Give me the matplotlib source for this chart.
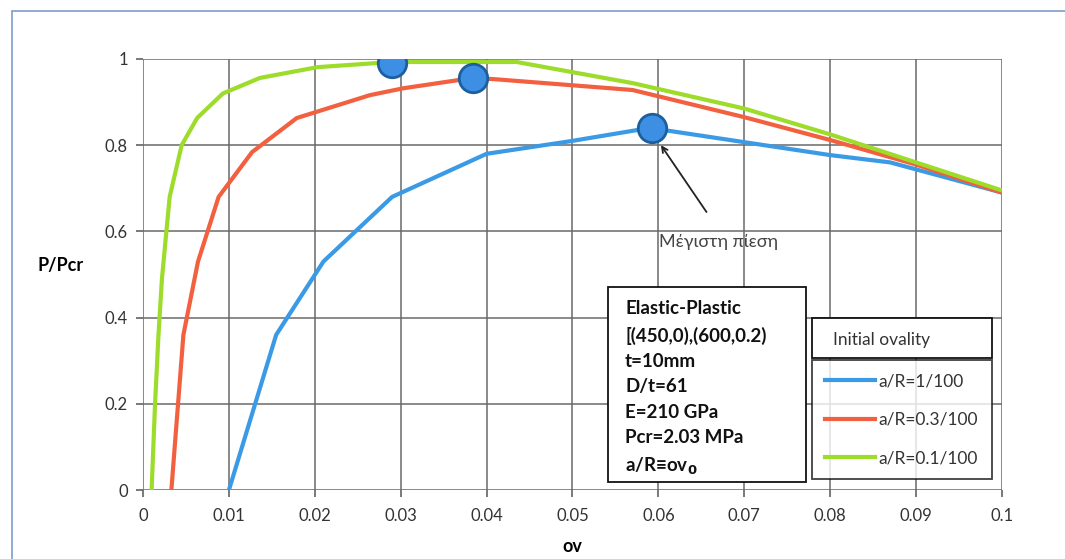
import numpy as np
import matplotlib.pyplot as plt
from matplotlib.lines import Line2D
from matplotlib.patches import Rectangle

plt.rcParams['font.family'] = ['Lato', 'DejaVu Sans']

# a/R = 1/100
ov_1 = [0.010, 0.0155, 0.021, 0.029, 0.040, 0.050, 0.059, 0.070, 0.080, 0.087, 0.100]
p_1 = [0.0, 0.36, 0.53, 0.68, 0.78, 0.81, 0.84, 0.807, 0.777, 0.76, 0.69]

# a/R = 0.3/100
ov_03 = [0.0033, 0.0047, 0.0064, 0.0088, 0.0127, 0.0179, 0.0264, 0.0303, 0.0384, 0.041, 0.057, 0.070, 0.080, 0.090, 0.100]
p_03 = [0.0, 0.36, 0.53, 0.68, 0.784, 0.863, 0.916, 0.932, 0.956, 0.953, 0.928, 0.865, 0.812, 0.755, 0.69]

# a/R = 0.1/100
ov_01 = [0.0010, 0.0014, 0.0018, 0.0022, 0.0031, 0.0045, 0.0063, 0.0093, 0.0136, 0.0203, 0.029, 0.0435, 0.057, 0.070, 0.080, 0.090, 0.100]
p_01 = [0.0, 0.2, 0.36, 0.49, 0.68, 0.80, 0.863, 0.92, 0.956, 0.981, 0.993, 0.993, 0.944, 0.885, 0.825, 0.76, 0.695]

# maximum pressure points
max_ov = [0.029, 0.0384, 0.0593]
max_p = [0.99, 0.955, 0.84]

xticks = [0, 0.01, 0.02, 0.03, 0.04, 0.05, 0.06, 0.07, 0.08, 0.09, 0.1]
xtick_labels = ['0', '0.01', '0.02', '0.03', '0.04', '0.05', '0.06', '0.07', '0.08', '0.09', '0.1']
yticks = [0, 0.2, 0.4, 0.6, 0.8, 1.0]
ytick_labels = ['0', '0.2', '0.4', '0.6', '0.8', '1']

blue = '#3b9ae6'
red = '#f2603f'
green = '#9ddc2a'

fig = plt.figure(figsize=(10.65, 5.59), dpi=100)
ax = fig.add_axes([0.1343, 0.1234, 0.8065, 0.7711])

ax.plot(ov_1, p_1, color=blue, linewidth=3, solid_capstyle='butt')
ax.plot(ov_03, p_03, color=red, linewidth=3, solid_capstyle='butt')
ax.plot(ov_01, p_01, color=green, linewidth=3, solid_capstyle='butt')
ax.scatter(max_ov, max_p, s=420, color='#3d8fe3', edgecolors='#1d5f9e', linewidths=2, zorder=5)

ax.set_xlim(0, 0.1)
ax.set_ylim(0, 1)
ax.set_xticks(xticks)
ax.set_xticklabels(xtick_labels)
ax.set_yticks(yticks)
ax.set_yticklabels(ytick_labels)
ax.tick_params(labelsize=12, length=5, width=1.1, color='#555555', colors='#333333')
ax.tick_params(axis='x', pad=8)
ax.tick_params(axis='y', pad=6)
ax.grid(True, color='#6a6a6a', linewidth=1.1)
for s in ax.spines.values():
    s.set_visible(False)
ax.set_axisbelow(True)

ax.set_xlabel('ov', fontsize=13, fontweight='bold', labelpad=10)
ax.set_ylabel('P/Pcr', fontsize=13, fontweight='bold', rotation=0, labelpad=32)

# arrow to the maximum of the 1/100 curve
ax.annotate('', xy=(0.0603, 0.80), xytext=(0.0656, 0.645),
            arrowprops=dict(arrowstyle='->', color='#222222', lw=1.3, shrinkA=0, shrinkB=0))
ax.text(0.0601, 0.575, 'Μέγιστη πίεση', fontsize=13, color='#444444', ha='left', va='center')

# info box
fig.patches.append(Rectangle((0.5709, 0.1377), 0.1859, 0.3489, transform=fig.transFigure,
                             facecolor='white', edgecolor='#111111', linewidth=1.3, zorder=3))
info = ('Elastic-Plastic\n[(450,0),(600,0.2)\nt=10mm\nD/t=61\nE=210 GPa\n'
        'Pcr=2.03 MPa\na/R≡ov$_\\mathbf{0}$')
fig.text(0.5869, 0.4625, info, fontsize=13.5, fontweight='bold', linespacing=1.6,
         va='top', ha='left', color='#111111', zorder=4)

# legend title box
fig.patches.append(Rectangle((0.7624, 0.3596), 0.1690, 0.0716, transform=fig.transFigure,
                             facecolor='white', edgecolor='#111111', linewidth=1.3, zorder=3))
fig.text(0.7822, 0.3918, 'Initial ovality', fontsize=12.5, color='#333333',
         ha='left', va='center', zorder=4)

handles = [Line2D([], [], color=blue, lw=3), Line2D([], [], color=red, lw=3),
           Line2D([], [], color=green, lw=3)]
labels = ['a/R=1/100', 'a/R=0.3/100', 'a/R=0.1/100']
leg = fig.legend(handles, labels, loc='upper left', bbox_to_anchor=(0.7624, 0.1431, 0.1690, 0.2129),
                 mode='expand', fontsize=12.5, frameon=True, fancybox=False, edgecolor='#111111',
                 handlelength=2.9, handletextpad=0.15, labelspacing=1.3, borderaxespad=0,
                 borderpad=0.75)
leg.get_frame().set_linewidth(1.3)
for t in leg.get_texts():
    t.set_color('#333333')

# chart area border
fig.patches.append(Rectangle((0.011, -0.02), 1.2, 1.0, transform=fig.transFigure,
                             fill=False, edgecolor='#7f9cc4', linewidth=1.2))

fig.savefig('out.png', dpi=100)
